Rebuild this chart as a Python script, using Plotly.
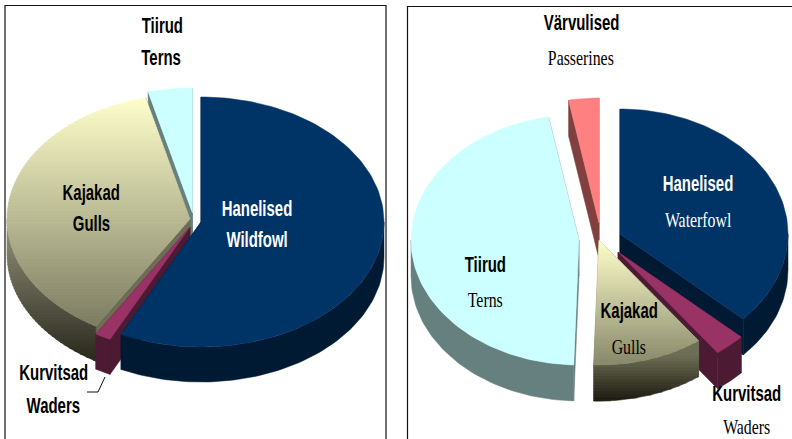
import math
import plotly.graph_objects as go

# ---- data (percent shares, clockwise from 12 o'clock) ----
left_categories = ["Hanelised", "Kurvitsad", "Kajakad", "Tiirud"]
left_values = [57.2, 1.4, 37.5, 3.9]
right_categories = ["Hanelised", "Kurvitsad", "Kajakad", "Tiirud", "Värvulised"]
right_values = [36.9, 3.0, 10.6, 46.6, 2.9]

left_labels = ["Tiirud", "Terns", "Kajakad", "Gulls", "Hanelised", "Wildfowl", "Kurvitsad", "Waders"]
right_labels = ["Värvulised", "Passerines", "Hanelised", "Waterfowl", "Tiirud", "Terns",
                "Kajakad", "Gulls", "Kurvitsad", "Waders"]

# ---- geometry and style ----
W, H = 792, 439
NAVY = ("#003366", "#001a33", "#001a33")
PLUM = ("#993366", "#4d1a33", "#4d1a33")
AQUA = ("#ccffff", "#668080", "#668080")
PINK = ("#ff8080", "#804040", "#804040")

left_geo = dict(rx=183, ry=125, depth=35)
right_geo = dict(rx=168, ry=125, depth=36)
left_centres = {"Hanelised": (201, 222), "Kurvitsad": (190, 227), "Kajakad": (190, 219), "Tiirud": (192.5, 213)}
right_centres = {"Hanelised": (620, 234), "Kurvitsad": (618, 252), "Kajakad": (599, 240),
                 "Tiirud": (579, 240), "Värvulised": (599, 223)}
left_order = ["Tiirud", "Kajakad", "Kurvitsad", "Hanelised"]
right_order = ["Värvulised", "Tiirud", "Hanelised", "Kurvitsad", "Kajakad"]
left_style = {"Hanelised": NAVY, "Kurvitsad": PLUM, "Tiirud": AQUA}
right_style = {"Hanelised": NAVY, "Kurvitsad": PLUM, "Tiirud": AQUA, "Värvulised": PINK}
left_grad = dict(top=[(97, "#ffffcc"), (327, "#7c7c62")], side=[(222, "#94947a"), (368, "#25231a")], wall="#6d6d55")
right_grad = dict(top=[(240, "#ffffcc"), (363, "#8a8a6c")], side=[(355, "#6f6f57"), (400, "#1f1d12")], wall="#6d6d55")

fig = go.Figure()


def add_poly(xs, ys, color):
    fig.add_trace(go.Scatter(x=xs, y=ys, mode="lines", fill="toself", fillcolor=color,
                             line=dict(color=color, width=0.5), hoverinfo="skip", showlegend=False))


def rgb(c):
    return tuple(int(c[i:i + 2], 16) for i in (1, 3, 5))


def grad_color(stops, y):
    (y0, c0), (y1, c1) = stops
    t = min(1, max(0, (y - y0) / (y1 - y0)))
    a, b = rgb(c0), rgb(c1)
    return "#%02x%02x%02x" % tuple(round(a[i] + (b[i] - a[i]) * t) for i in range(3))


def clip(poly, y, keep_below):
    out = []
    for i, p in enumerate(poly):
        q = poly[(i + 1) % len(poly)]
        pin = p[1] >= y if keep_below else p[1] <= y
        qin = q[1] >= y if keep_below else q[1] <= y
        if pin:
            out.append(p)
        if pin != qin:
            t = (y - p[1]) / (q[1] - p[1])
            out.append((p[0] + (q[0] - p[0]) * t, y))
    return out


def add_gradient(poly, stops, step=3):
    ymin = min(p[1] for p in poly)
    ymax = max(p[1] for p in poly)
    y = ymin
    while y < ymax:
        band = clip(clip(poly, y, True), y + step + 0.4, False)
        if len(band) >= 3:
            add_poly([p[0] for p in band] + [band[0][0]], [p[1] for p in band] + [band[0][1]],
                     grad_color(stops, y + step / 2))
        y += step


def rim(c, geo, a0, a1):
    n = max(2, int(abs(a1 - a0) / 1.5) + 2)
    pts = []
    for i in range(n):
        a = math.radians(a0 + (a1 - a0) * i / (n - 1))
        pts.append((c[0] + geo["rx"] * math.sin(a), c[1] - geo["ry"] * math.cos(a)))
    return pts


def draw_pie(cats, values, centres, order, styles, grad, geo):
    total = sum(values)
    angles, acc = {}, 0
    for cat, v in zip(cats, values):
        angles[cat] = (acc / total * 360, (acc + v) / total * 360)
        acc += v
    d = geo["depth"]
    for cat in order:
        a0, a1 = angles[cat]
        c = centres[cat]
        arc = rim(c, geo, a0, a1)
        top = [c] + arc
        for e in (arc[0], arc[-1]):
            wall = [c, e, (e[0], e[1] + d), (c[0], c[1] + d)]
            col = grad["wall"] if cat not in styles else styles[cat][2]
            add_poly([p[0] for p in wall] + [c[0]], [p[1] for p in wall] + [c[1]], col)
        s0, s1 = max(a0, 90), min(a1, 270)
        if s1 > s0:
            front = rim(c, geo, s0, s1)
            side = front + [(p[0], p[1] + d) for p in reversed(front)]
            if cat in styles:
                add_poly([p[0] for p in side] + [side[0][0]], [p[1] for p in side] + [side[0][1]], styles[cat][1])
            else:
                add_gradient(side, grad["side"])
        if cat in styles:
            add_poly([p[0] for p in top] + [c[0]], [p[1] for p in top] + [c[1]], styles[cat][0])
        else:
            add_gradient(top, grad["top"])


draw_pie(left_categories, left_values, left_centres, left_order, left_style, left_grad, left_geo)
draw_pie(right_categories, right_values, right_centres, right_order, right_style, right_grad, right_geo)

# frames and leader line
FRAME = "#111111"
for xs, ys, w in [([5, 5, 386, 386], [439, 5.5, 5.5, 439], 1.2),
                  ([407.5, 407.5, 792], [439, 6.5, 6.5], 1.2),
                  ([105, 98, 87], [377, 392, 392], 1)]:
    fig.add_trace(go.Scatter(x=xs, y=ys, mode="lines", line=dict(color=FRAME, width=w),
                             hoverinfo="skip", showlegend=False))

SANS = "Liberation Sans, Arial, sans-serif"
SERIF = "Liberation Serif, serif"
left_pos = [(162, 25), (161, 57), (91, 192), (91, 223), (257, 208), (257, 239), (53, 372), (53, 405)]
left_white = {"Hanelised", "Wildfowl"}
for t, (x, y) in zip(left_labels, left_pos):
    fig.add_annotation(x=x, y=y, text="<b>%s</b>" % t, showarrow=False,
                       font=dict(family=SANS, size=22, color="white" if t in left_white else "black"))
right_pos = [(581, 22), (581, 57), (698, 183), (698, 219), (485, 264), (485, 299),
             (629, 310), (629, 346), (746, 393), (746, 426.5)]
right_white = {"Hanelised", "Waterfowl"}
right_serif = {"Passerines", "Waterfowl", "Terns", "Gulls", "Waders"}
for t, (x, y) in zip(right_labels, right_pos):
    col = "white" if t in right_white else "black"
    if t in right_serif:
        fig.add_annotation(x=x, y=y, text=t, showarrow=False,
                           font=dict(family=SERIF, size=22, color=col))
    else:
        fig.add_annotation(x=x, y=y, text="<b>%s</b>" % t, showarrow=False,
                           font=dict(family=SANS, size=22, color=col))

fig.update_layout(width=W, height=H, margin=dict(l=0, r=0, t=0, b=0),
                  paper_bgcolor="white", plot_bgcolor="white", showlegend=False,
                  xaxis=dict(range=[0, W], visible=False, fixedrange=True),
                  yaxis=dict(range=[H, 0], visible=False, fixedrange=True))

# page margin off; squeeze the labels horizontally, as the reference's narrow face does
POST = """
document.documentElement.style.overflow='hidden';
document.body.style.margin='0';
document.querySelectorAll('.annotation-text').forEach(function(t){
  var serif=(t.style.fontFamily||'').indexOf('Serif')>=0;
  t.style.transformBox='fill-box';
  t.style.transformOrigin='center';
  t.style.transform='scaleX('+(serif?0.72:0.68)+')';
});
"""
fig.write_html("out.html", config={"displayModeBar": False}, post_script=POST)
